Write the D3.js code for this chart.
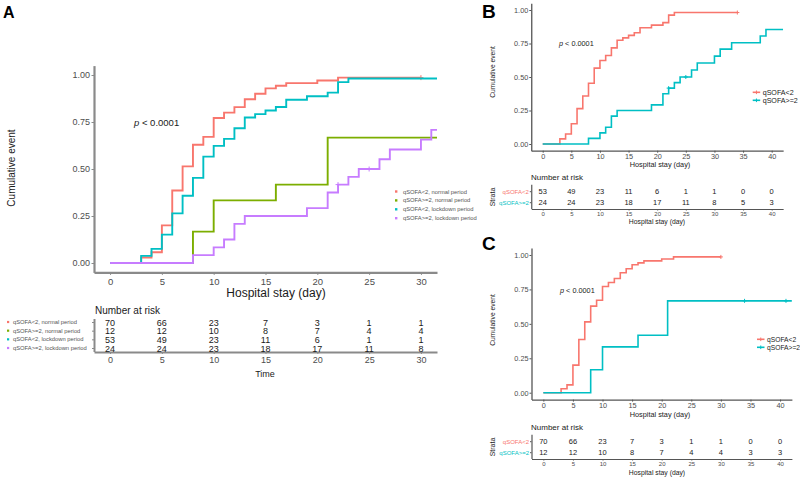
<!DOCTYPE html>
<html>
<head>
<meta charset="utf-8">
<script src="https://cdn.jsdelivr.net/npm/d3@7"></script>
<style>
  body { margin: 0; background: #fff; }
  text { font-family: "Liberation Sans", Arial, sans-serif; }
</style>
</head>
<body>
<svg width="800" height="481"></svg>
<script>
// cumulative event curves (time in days, value 0..1)
const normalLowT  = [0, 3, 4, 5, 6, 7, 8, 9, 10, 11, 12, 13, 14, 15, 16, 17, 20, 22, 30];
const normalLowV  = [0, 0.029, 0.057, 0.2, 0.386, 0.514, 0.629, 0.671, 0.771, 0.8, 0.829, 0.871, 0.9, 0.929, 0.943, 0.957, 0.971, 0.986, 0.986];
const normalLowCens = [30];

const normalHighT = [0, 8, 10, 16, 21, 42];
const normalHighV = [0, 0.167, 0.333, 0.417, 0.667, 0.667];
const normalHighCens = [34, 41];

const lockLowT  = [0, 3, 4, 5, 6, 7, 8, 9, 10, 11, 12, 13, 14, 15, 16, 17, 19, 21, 22, 23, 34];
const lockLowV  = [0, 0.038, 0.075, 0.151, 0.264, 0.358, 0.453, 0.566, 0.623, 0.66, 0.717, 0.774, 0.792, 0.811, 0.83, 0.868, 0.887, 0.906, 0.962, 0.981, 0.981];
const lockLowCens = [34];

const lockHighT = [0, 8, 10, 11, 12, 13, 19, 21, 22, 23, 24, 26, 27, 30, 31, 33, 38, 39, 42];
const lockHighV = [0, 0.042, 0.083, 0.125, 0.208, 0.25, 0.292, 0.375, 0.417, 0.458, 0.5, 0.552, 0.604, 0.656, 0.708, 0.756, 0.806, 0.854, 0.854];
const lockHighCens = [22, 25];

const groupsA = ['qSOFA<2, normal period', 'qSOFA>=2, normal period', 'qSOFA<2, lockdown period', 'qSOFA>=2, lockdown period'];
const strata = ['qSOFA<2', 'qSOFA>=2'];

const yTicks = [0, 0.25, 0.5, 0.75, 1];
const xTicksA = [0, 5, 10, 15, 20, 25, 30];
const xTicksBC = [0, 5, 10, 15, 20, 25, 30, 35, 40];

// number at risk
const riskA = [
  [70, 66, 23, 7, 3, 1, 1],
  [12, 12, 10, 8, 7, 4, 4],
  [53, 49, 23, 11, 6, 1, 1],
  [24, 24, 23, 18, 17, 11, 8]
];
const riskB = [
  [53, 49, 23, 11, 6, 1, 1, 0, 0],
  [24, 24, 23, 18, 17, 11, 8, 5, 3]
];
const riskC = [
  [70, 66, 23, 7, 3, 1, 1, 0, 0],
  [12, 12, 10, 8, 7, 4, 4, 3, 3]
];

const red = '#F8766D', green = '#7CAE00', cyan = '#00BFC4', purple = '#C77CFF';

const svg = d3.select('svg');

const styleAxis = (a, p) => {
  a.attr('font-family', null).attr('font-size', null);
  a.select('.domain').attr('stroke', p.axisColor).attr('stroke-width', p.axisWidth);
  a.selectAll('.tick line').attr('stroke', p.axisColor).attr('stroke-width', 1);
  a.selectAll('.tick text').attr('fill', '#4d4d4d');
};

const drawPanel = p => {
  const x = d3.scaleLinear().domain(p.xDom).range(p.xRange);
  const y = d3.scaleLinear().domain([-0.05, 1.05]).range(p.yRange);
  const g = svg.append('g');

  svg.append('clipPath').attr('id', 'clip' + p.name)
    .append('rect')
      .attr('x', p.xRange[0])
      .attr('y', p.yRange[1])
      .attr('width', p.xRange[1] - p.xRange[0])
      .attr('height', p.yRange[0] - p.yRange[1]);

  const xAxisG = g.append('g')
    .attr('transform', `translate(0,${p.yRange[0]})`)
    .call(d3.axisBottom(x).tickValues(p.xTicks).tickSize(p.tick).tickSizeOuter(0).tickPadding(p.xPad));
  styleAxis(xAxisG, p);
  xAxisG.selectAll('.tick text').style('font-size', p.xTickFont + 'px');

  const yAxisG = g.append('g')
    .attr('transform', `translate(${p.xRange[0]},0)`)
    .call(d3.axisLeft(y).tickValues(yTicks).tickFormat(d3.format('.2f')).tickSize(p.tick).tickSizeOuter(0).tickPadding(p.yPad));
  styleAxis(yAxisG, p);
  yAxisG.selectAll('.tick text').style('font-size', p.yTickFont + 'px');

  const line = d3.line()
    .curve(d3.curveStepAfter)
    .x(d => x(d[0]))
    .y(d => y(d[1]));

  const lg = g.append('g').attr('clip-path', `url(#clip${p.name})`);
  p.series.forEach(s => {
    lg.append('path')
      .datum(d3.zip(s.t, s.v))
      .attr('d', line)
      .attr('fill', 'none')
      .attr('stroke', s.color)
      .attr('stroke-width', p.lineWidth);
    lg.selectAll(null).data(s.cens)
      .enter().append('path')
        .attr('d', c => {
          const v = s.v[d3.bisectRight(s.t, c) - 1];
          const cx = x(c), cy = y(v), h = p.cens;
          return `M${cx - h},${cy}h${2 * h}M${cx},${cy - h}v${2 * h}`;
        })
        .attr('stroke', s.color)
        .attr('stroke-width', 1);
  });

  // titles
  g.append('text')
    .attr('x', p.xTitle[0]).attr('y', p.xTitle[1])
    .attr('text-anchor', 'middle')
    .style('font-size', p.xTitleFont + 'px')
    .attr('fill', '#1a1a1a')
    .text('Hospital stay (day)');
  g.append('text')
    .attr('transform', `translate(${p.yTitle[0]},${p.yTitle[1]}) rotate(-90)`)
    .attr('text-anchor', 'middle')
    .attr('dy', '0.35em')
    .style('font-size', p.yTitleFont + 'px')
    .attr('fill', '#1a1a1a')
    .text('Cumulative event');

  const pt = g.append('text')
    .attr('x', p.pPos[0]).attr('y', p.pPos[1])
    .style('font-size', p.pFont + 'px')
    .attr('fill', '#1a1a1a');
  pt.append('tspan').style('font-style', 'italic').text('p');
  pt.append('tspan').text(' < 0.0001');

  g.append('text')
    .attr('x', p.letter[0]).attr('y', p.letter[1])
    .style('font-size', p.letterFont + 'px')
    .style('font-weight', 'bold')
    .attr('fill', '#000')
    .text(p.name);

  return x;
};

const drawRisk = r => {
  const x = d3.scaleLinear().domain(r.xDom).range(r.xRange);
  const y = d3.scalePoint().domain(d3.range(r.rows.length)).range(r.rowRange);
  const g = svg.append('g');

  g.append('text')
    .attr('x', r.titlePos[0]).attr('y', r.titlePos[1])
    .style('font-size', r.titleFont + 'px')
    .attr('fill', '#1a1a1a')
    .text('Number at risk');

  const xAxisG = g.append('g')
    .attr('transform', `translate(0,${r.axisY})`)
    .call(d3.axisBottom(x).tickValues(r.xTicks).tickSize(r.tick).tickSizeOuter(0).tickPadding(r.pad));
  styleAxis(xAxisG, r);
  xAxisG.selectAll('.tick text').style('font-size', r.tickFont + 'px');

  g.append('line')
    .attr('x1', r.xRange[0] + 0.5).attr('x2', r.xRange[0] + 0.5)
    .attr('y1', r.top).attr('y2', r.axisY)
    .attr('stroke', r.axisColor).attr('stroke-width', r.axisWidth);
  g.selectAll('.rtick').data(r.rows)
    .enter().append('line')
      .attr('x1', r.xRange[0] - r.tick).attr('x2', r.xRange[0])
      .attr('y1', (d, i) => y(i)).attr('y2', (d, i) => y(i))
      .attr('stroke', r.axisColor);

  r.rows.forEach((row, i) => {
    g.selectAll(null).data(row)
      .enter().append('text')
        .attr('x', (d, j) => x(r.xTicks[j]))
        .attr('y', y(i))
        .attr('dy', '0.36em')
        .attr('text-anchor', 'middle')
        .style('font-size', r.numFont + 'px')
        .attr('fill', '#1a1a1a')
        .text(d => d);
  });

  g.append('text')
    .attr('x', r.xTitle[0]).attr('y', r.xTitle[1])
    .attr('text-anchor', 'middle')
    .style('font-size', r.xTitleFont + 'px')
    .attr('fill', '#1a1a1a')
    .text(r.xTitleText);

  return { g, y };
};

// ---------- panel A ----------
drawPanel({
  name: 'A',
  xDom: [-1.55, 31.55], xRange: [94, 437],
  yRange: [272.4, 65.6],
  xTicks: xTicksA,
  tick: 2.5, xPad: 3, yPad: 1.5,
  xTickFont: 9.5, yTickFont: 9,
  axisColor: '#8a8a8a', axisWidth: 2.2,
  lineWidth: 1.9, cens: 2.5,
  series: [
    { t: normalLowT, v: normalLowV, cens: normalLowCens, color: red },
    { t: normalHighT, v: normalHighV, cens: normalHighCens, color: green },
    { t: lockLowT, v: lockLowV, cens: lockLowCens, color: cyan },
    { t: lockHighT, v: lockHighV, cens: lockHighCens, color: purple }
  ],
  xTitle: [276, 297], xTitleFont: 12,
  yTitle: [11, 168], yTitleFont: 10,
  pPos: [134, 125.5], pFont: 9.5,
  letter: [3, 18], letterFont: 16
});

const legA = svg.append('g');
groupsA.forEach((name, i) => {
  const cy = 191.5 + i * 8.9;
  legA.append('rect')
    .attr('x', 395).attr('y', cy - 1.2).attr('width', 2.4).attr('height', 2.4)
    .attr('fill', [red, green, cyan, purple][i]);
  legA.append('text')
    .attr('x', 403).attr('y', cy).attr('dy', '0.35em')
    .style('font-size', '5.8px').attr('fill', '#555')
    .text(name);
});

const riskAOut = drawRisk({
  xDom: [-1.55, 31.55], xRange: [94, 437],
  rows: riskA, rowRange: [322.5, 348.5],
  xTicks: xTicksA,
  titlePos: [95, 314], titleFont: 10,
  axisY: 352, top: 319,
  tick: 2, pad: 3, tickFont: 9,
  axisColor: '#8a8a8a', axisWidth: 2,
  numFont: 9,
  xTitle: [265, 377], xTitleFont: 9, xTitleText: 'Time'
});
groupsA.forEach((name, i) => {
  const cy = riskAOut.y(i) - 0.5;
  riskAOut.g.append('rect')
    .attr('x', 7).attr('y', cy - 1.1).attr('width', 2.2).attr('height', 2.2)
    .attr('fill', [red, green, cyan, purple][i]);
  riskAOut.g.append('text')
    .attr('x', 13).attr('y', cy).attr('dy', '0.35em')
    .style('font-size', '5.8px').attr('fill', '#555')
    .text(name);
});

// ---------- panels B and C ----------
const smallPanel = (name, xRange, yRange, series, extra) => {
  drawPanel(Object.assign({
    name,
    xDom: [-2, 42], xRange, yRange,
    xTicks: xTicksBC,
    tick: 2, xPad: 1, yPad: 1,
    xTickFont: 7.3, yTickFont: 7.3,
    axisColor: '#555', axisWidth: 1.3,
    lineWidth: 1.6, cens: 2,
    series,
    xTitleFont: 7.3, yTitleFont: 6.7, pFont: 7.3,
    letterFont: 19
  }, extra));
};

const legendBC = (x0, y0, font) => {
  const g = svg.append('g');
  strata.forEach((s, i) => {
    const cy = y0 + i * 8;
    const col = [red, cyan][i];
    g.append('line').attr('x1', x0).attr('x2', x0 + 7.5).attr('y1', cy).attr('y2', cy)
      .attr('stroke', col).attr('stroke-width', 1.6);
    g.append('path').attr('d', `M${x0 + 3.75},${cy - 1.8}v3.6`).attr('stroke', col).attr('stroke-width', 1);
    g.append('text').attr('x', x0 + 10).attr('y', cy).attr('dy', '0.35em')
      .style('font-size', font + 'px').attr('fill', '#1a1a1a').text(s);
  });
};

const riskBC = (rows, xRange, rowRange, axisY, titleY, xTitleY, strataY) => {
  const out = drawRisk({
    xDom: [-2, 42], xRange,
    rows, rowRange,
    xTicks: xTicksBC,
    titlePos: [531, titleY], titleFont: 8,
    axisY, top: rowRange[0] - 7,
    tick: 1.5, pad: 1, tickFont: 6,
    axisColor: '#555', axisWidth: 1.2,
    numFont: 7.5,
    xTitle: [657, xTitleY], xTitleFont: 6.8, xTitleText: 'Hospital stay (day)'
  });
  strata.forEach((s, i) => {
    out.g.append('text')
      .attr('x', xRange[0] - 2.5).attr('y', out.y(i)).attr('dy', '0.35em')
      .attr('text-anchor', 'end')
      .style('font-size', '6px').attr('fill', [red, cyan][i])
      .text(s);
  });
  out.g.append('text')
    .attr('transform', `translate(493,${strataY}) rotate(-90)`)
    .attr('text-anchor', 'middle').attr('dy', '0.35em')
    .style('font-size', '7px').attr('fill', '#1a1a1a')
    .text('Strata');
};

smallPanel('B', [531.25, 783.15], [150.7, 3.3], [
  { t: lockLowT, v: lockLowV, cens: lockLowCens, color: red },
  { t: lockHighT, v: lockHighV, cens: lockHighCens, color: cyan }
], { xTitle: [660, 166.5], yTitle: [493, 72], pPos: [559, 45.5], letter: [482, 18] });
legendBC(752.7, 92.3, 7.1);
riskBC(riskB, [531.25, 783.15], [191.7, 202.7], 209, 180, 223.5, 197);

smallPanel('C', [531.5, 791.9], [399.6, 248.1], [
  { t: normalLowT, v: normalLowV, cens: normalLowCens, color: red },
  { t: normalHighT, v: normalHighV, cens: normalHighCens, color: cyan }
], { xTitle: [660, 416.5], yTitle: [493, 320], pPos: [560, 293.3], letter: [482, 250] });
legendBC(757, 339.3, 6.7);
riskBC(riskC, [531.5, 791.9], [441.7, 452.7], 459, 430, 475, 447);
</script>
</body>
</html>
